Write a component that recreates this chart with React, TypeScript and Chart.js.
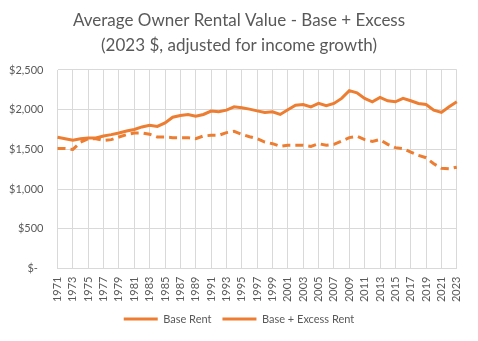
import React, { useEffect, useRef } from "react";
import { Chart, registerables } from "chart.js";

Chart.register(...registerables);

const years: string[] = [];
for (let y = 1971; y <= 2023; y++) years.push(String(y));

const baseRent = [
  1510, 1510, 1500, 1590, 1635, 1635, 1614, 1623, 1656, 1686,
  1707, 1707, 1690, 1656, 1656, 1648, 1648, 1648, 1635, 1669,
  1677, 1677, 1711, 1728, 1690, 1660, 1636, 1593, 1572, 1538,
  1551, 1551, 1551, 1538, 1572, 1551, 1563, 1605, 1648, 1665,
  1623, 1601, 1623, 1563, 1522, 1509, 1466, 1424, 1395, 1319,
  1263, 1256, 1276,
];

const baseExcessRent = [
  1652, 1635, 1614, 1635, 1643, 1643, 1669, 1686, 1707, 1732,
  1750, 1783, 1804, 1790, 1834, 1905, 1927, 1940, 1918, 1940,
  1982, 1973, 1994, 2036, 2023, 2007, 1985, 1965, 1973, 1940,
  2000, 2057, 2066, 2036, 2079, 2049, 2079, 2142, 2240, 2213,
  2142, 2099, 2155, 2112, 2099, 2142, 2112, 2079, 2066, 1994,
  1965, 2036, 2099,
];

const titleLines = [
  "Average Owner Rental Value - Base + Excess",
  "(2023 $, adjusted for income growth)",
];

const ORANGE = "#ED7D31";
const GRID = "#D9D9D9";
const TEXT = "#595959";
const FONT = "Lato, 'Noto Sans', sans-serif";

function fmtDollar(v: number): string {
  if (v === 0) return "$-  ";
  return "$" + v.toLocaleString("en-US");
}

export default function App() {
  const ref = useRef<HTMLCanvasElement | null>(null);

  useEffect(() => {
    if (!ref.current) return;
    const chart = new Chart(ref.current, {
      type: "line",
      data: {
        labels: years,
        datasets: [
          {
            label: "Base Rent",
            data: baseRent,
            borderColor: ORANGE,
            backgroundColor: ORANGE,
            borderWidth: 3,
            borderDash: [8, 5],
            pointRadius: 0,
            tension: 0,
          },
          {
            label: "Base + Excess Rent",
            data: baseExcessRent,
            borderColor: ORANGE,
            backgroundColor: ORANGE,
            borderWidth: 3,
            pointRadius: 0,
            tension: 0,
          },
        ],
      },
      options: {
        animation: false,
        responsive: true,
        maintainAspectRatio: false,
        layout: { padding: { left: 6.5, right: 6.5, top: 0, bottom: 6.5 } },
        plugins: {
          title: {
            display: true,
            text: titleLines,
            color: TEXT,
            font: { family: FONT, size: 17, weight: "normal", lineHeight: 1.47 },
            padding: { top: 8, bottom: 12 },
          },
          legend: {
            position: "bottom",
            maxHeight: 33,
            labels: {
              color: TEXT,
              font: { family: FONT, size: 11 },
              usePointStyle: true,
              pointStyle: "line",
              pointStyleWidth: 34,
              boxHeight: 11,
              padding: 11,
            },
          },
          tooltip: { enabled: false },
        },
        scales: {
          x: {
            grid: {
              color: GRID,
              drawTicks: false,
            },
            border: { color: GRID },
            ticks: {
              color: TEXT,
              font: { family: FONT, size: 11 },
              autoSkip: false,
              maxRotation: 90,
              minRotation: 90,
              padding: 8,
              callback: function (_v: any, i: number) {
                return i % 2 === 0 ? years[i] : null;
              },
            },
            afterFit: (s: any) => {
              s.height = 34;
            },
          },
          y: {
            min: 0,
            max: 2500,
            grid: { color: GRID, drawTicks: false },
            border: { display: false },
            ticks: {
              stepSize: 500,
              color: TEXT,
              font: { family: FONT, size: 11 },
              padding: 14,
              callback: (v: any) => fmtDollar(Number(v)),
            },
            afterFit: (s: any) => {
              s.width = 51;
            },
          },
          yRight: {
            position: "right",
            display: true,
            grid: { display: false, drawTicks: false },
            border: { display: false },
            ticks: { display: false },
            afterFit: (s: any) => {
              s.width = 6.9;
            },
          },
        },
      },
    });
    return () => chart.destroy();
  }, []);

  return (
    <div style={{ position: "fixed", left: 0, top: 0, width: 478, height: 341, background: "#fff" }}>
      <canvas ref={ref} />
    </div>
  );
}
